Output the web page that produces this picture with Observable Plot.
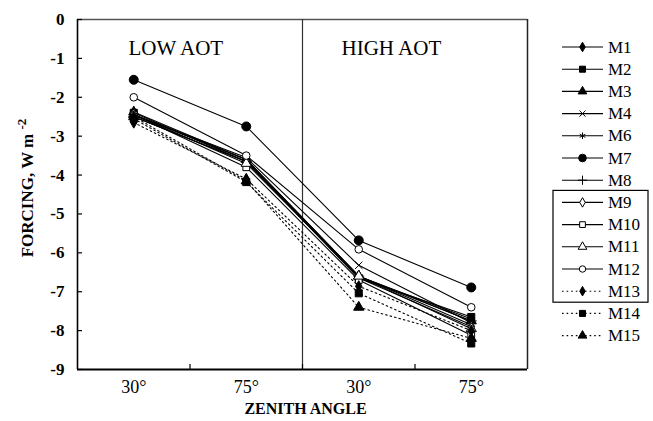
<!DOCTYPE html>
<html>
<head>
<meta charset="utf-8">
<script src="https://cdn.jsdelivr.net/npm/d3@7"></script>
<script src="https://cdn.jsdelivr.net/npm/@observablehq/plot@0.6"></script>
<style>
  html, body { margin: 0; padding: 0; background: #fff; }
  #chart { width: 653px; height: 421px; }
  #chart svg text { font-family: "Liberation Serif", "DejaVu Serif", serif; }
</style>
</head>
<body>
<div id="chart"></div>
<script>
// ---- Data ----
const categories = ["LOW 30", "LOW 75", "HIGH 30", "HIGH 75"];
const tickLabels = ["30°", "75°", "30°", "75°"];
const groupLabels = ["LOW AOT", "HIGH AOT"];
const yTicks = [0, -1, -2, -3, -4, -5, -6, -7, -8, -9];
const models = ["M1","M2","M3","M4","M6","M7","M8","M9","M10","M11","M12","M13","M14","M15"];
const M1  = [-2.45, -3.60, -6.60, -7.70];
const M2  = [-2.40, -3.65, -6.65, -7.65];
const M3  = [-2.38, -3.60, -6.60, -7.75];
const M4  = [-2.45, -3.55, -6.32, -7.80];
const M6  = [-2.45, -3.60, -6.60, -7.85];
const M7  = [-1.55, -2.75, -5.68, -6.89];
const M8  = [-2.50, -3.65, -6.60, -7.75];
const M9  = [-2.50, -3.65, -6.65, -7.90];
const M10 = [-2.45, -3.80, -6.70, -8.12];
const M11 = [-2.45, -3.70, -6.60, -7.95];
const M12 = [-2.00, -3.50, -5.91, -7.40];
const M13 = [-2.65, -4.10, -6.86, -8.00];
const M14 = [-2.55, -4.18, -7.04, -8.33];
const M15 = [-2.50, -4.15, -7.40, -8.20];
const seriesValues = {M1, M2, M3, M4, M6, M7, M8, M9, M10, M11, M12, M13, M14, M15};

// ---- Styles ----
const styleOf = {
  M1:  {symbol: "diamond",  fill: "black", r: 3.4},
  M2:  {symbol: "square",   fill: "black", r: 4.0},
  M3:  {symbol: "triangle", fill: "black", r: 3.8},
  M4:  {symbol: "times",    fill: "none",  r: 3.4},
  M6:  {symbol: "asterisk", fill: "none",  r: 3.6},
  M7:  {symbol: "circle",   fill: "black", r: 4.5},
  M8:  {symbol: "plus",     fill: "none",  r: 3.6},
  M9:  {symbol: "diamond",  fill: "white", r: 3.4},
  M10: {symbol: "square",   fill: "white", r: 3.8},
  M11: {symbol: "triangle", fill: "white", r: 3.8},
  M12: {symbol: "circle",   fill: "white", r: 3.8},
  M13: {symbol: "diamond",  fill: "black", r: 3.4, dotted: true},
  M14: {symbol: "square",   fill: "black", r: 4.0, dotted: true},
  M15: {symbol: "triangle", fill: "black", r: 3.8, dotted: true}
};
const DOTS = "1.6,3";
const serif = "Liberation Serif, DejaVu Serif, serif";

const rows = models.flatMap(m => seriesValues[m].map((v, i) => ({model: m, cat: categories[i], pos: i + 0.5, v})));

const marks = [];
for (const m of models) {
  const s = styleOf[m];
  marks.push(Plot.line(rows.filter(d => d.model === m), {
    x: "pos", y: "v", stroke: "black", strokeWidth: 1.1,
    strokeDasharray: s.dotted ? DOTS : null
  }));
}
for (const m of models) {
  const s = styleOf[m];
  marks.push(Plot.dot(rows.filter(d => d.model === m), {
    x: "pos", y: "v", symbol: () => s.symbol, r: s.r,
    fill: s.fill, stroke: "black", strokeWidth: 1
  }));
}

const chart = Plot.plot({
  width: 653,
  height: 421,
  marginLeft: 77,
  marginRight: 126,
  marginTop: 19,
  marginBottom: 52,
  style: {fontFamily: serif, background: "white", color: "black", fontSize: "17px"},
  x: {domain: [0, 4], axis: null},
  y: {domain: [-9, 0], axis: null},
  symbol: {type: "identity"},
  marks: [
    // frame
    Plot.ruleY([0], {stroke: "#555", strokeWidth: 1.5}),
    Plot.ruleX([4], {stroke: "#222", strokeWidth: 1.5}),
    Plot.ruleX([2], {stroke: "#333", strokeWidth: 1.2}),
    // y ticks (inward) and labels
    Plot.axisY({ticks: yTicks, tickSize: -5, tickFormat: () => "", strokeWidth: 1.2, label: null}),
    Plot.axisY({ticks: yTicks, tickSize: 0, tickPadding: 13, tickFormat: d => String(d),
      fontWeight: "bold", fontSize: 17, label: null}),
    // x ticks (inward) at category boundaries
    Plot.axisX({ticks: [1, 2, 3], tickSize: -5, tickFormat: () => "", strokeWidth: 1.2, label: null}),
    Plot.axisX({ticks: [0.5, 1.5, 2.5, 3.5], tickSize: 0, tickPadding: 11,
      tickFormat: d => tickLabels[Math.floor(d)], fontSize: 18, label: null}),
    ...marks,
    Plot.ruleX([0], {stroke: "black", strokeWidth: 1.6}),
    Plot.ruleY([-9], {stroke: "black", strokeWidth: 2.2}),
    // group annotations
    Plot.text([groupLabels[0]], {x: () => 0, text: d => d, frameAnchor: "top", textAnchor: "start", dx: 51, dy: 21, fontSize: 21}),
    Plot.text([groupLabels[1]], {x: () => 2, text: d => d, frameAnchor: "top", textAnchor: "start", dx: 39, dy: 21, fontSize: 21}),
    // x axis title
    Plot.text(["ZENITH ANGLE"], {x: () => 2, text: d => d, frameAnchor: "bottom", dx: 3, dy: 44, fontSize: 16, fontWeight: "bold"})
  ]
});

document.getElementById("chart").appendChild(chart);

// ---- Y axis title with superscript ----
const svg = d3.select(chart);
const yScale = chart.scale("y");
const yMid = (yScale.apply(0) + yScale.apply(-9)) / 2;
const title = svg.append("text")
  .attr("transform", `translate(33,${yMid - 6}) rotate(-90)`)
  .attr("text-anchor", "middle")
  .attr("font-family", serif)
  .attr("font-weight", "bold")
  .attr("font-size", 17)
  .attr("fill", "black");
title.append("tspan").text("FORCING, W m ");
title.append("tspan").attr("dy", -7).attr("font-size", 13).text("-2");

// ---- Legend ----
const symMap = {
  diamond: d3.symbolDiamond, square: d3.symbolSquare, triangle: d3.symbolTriangle,
  times: d3.symbolTimes, asterisk: d3.symbolAsterisk, circle: d3.symbolCircle, plus: d3.symbolPlus
};
const legend = svg.append("g").attr("text-anchor", "start");
const legendTop = 47, legendStep = 22.2;
models.forEach((m, i) => {
  const s = styleOf[m];
  const y = legendTop + i * legendStep;
  const g = legend.append("g").attr("transform", `translate(0,${y})`);
  g.append("line").attr("x1", 562).attr("x2", 603).attr("y1", 0).attr("y2", 0)
    .attr("stroke", "black").attr("stroke-width", 1.1)
    .attr("stroke-dasharray", s.dotted ? DOTS : null);
  const rr = s.r * 0.85;
  g.append("path")
    .attr("transform", "translate(582.5,0)")
    .attr("d", d3.symbol(symMap[s.symbol], Math.PI * rr * rr)())
    .attr("fill", s.fill).attr("stroke", "black").attr("stroke-width", 1);
  g.append("text").attr("x", 608).attr("y", 5.5)
    .attr("text-anchor", "start")
    .attr("font-family", serif)
    .attr("font-size", 17).attr("fill", "black").text(m);
});
const boxTop = legendTop + 7 * legendStep - 12;
const boxBottom = legendTop + 11 * legendStep + 11;
legend.append("rect").attr("x", 553).attr("y", boxTop).attr("width", 95).attr("height", boxBottom - boxTop)
  .attr("fill", "none").attr("stroke", "black").attr("stroke-width", 1.2);
</script>
</body>
</html>
